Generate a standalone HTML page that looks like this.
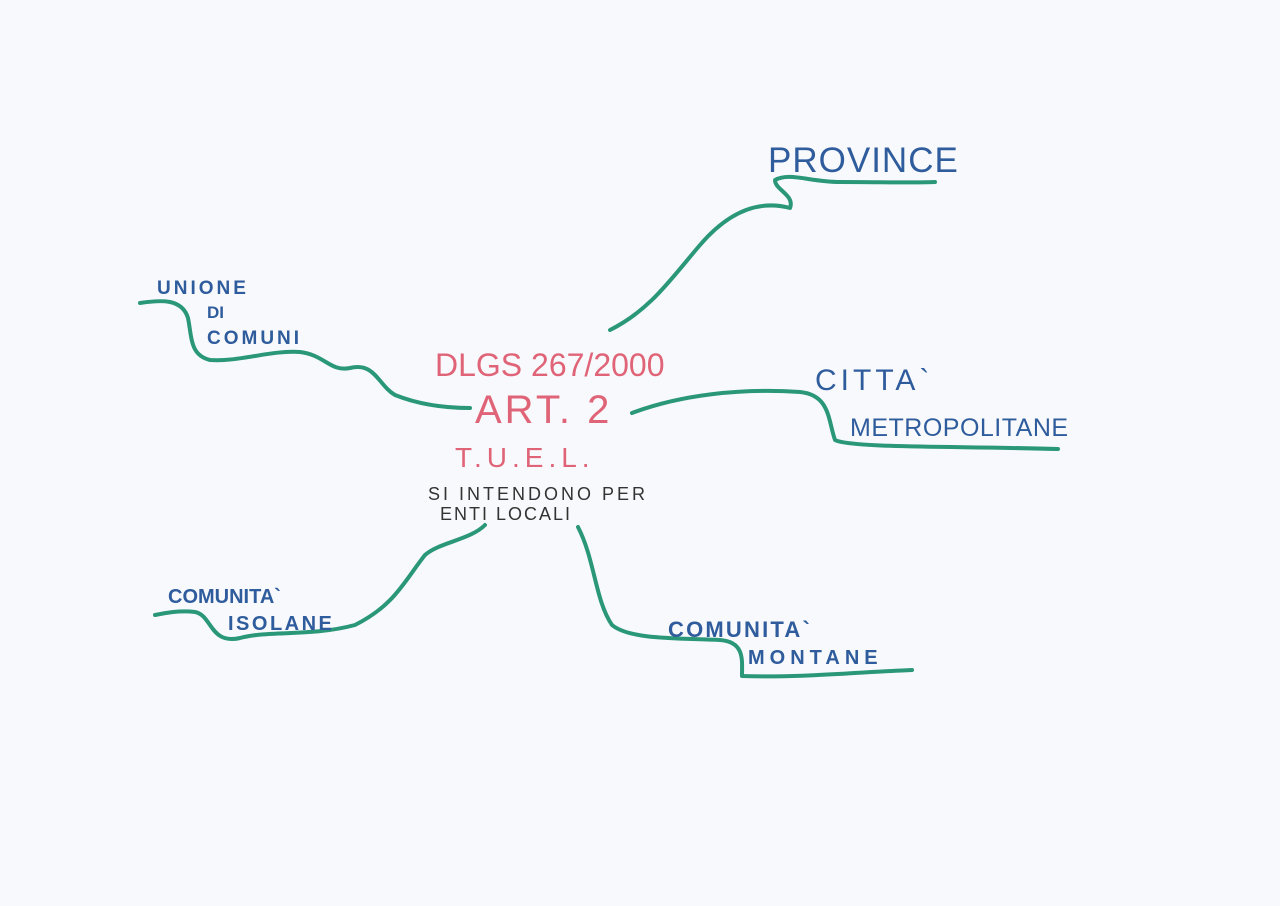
<!DOCTYPE html>
<html><head><meta charset="utf-8"><style>
html,body{margin:0;padding:0;background:#f8f9fc;}
svg{display:block}
text{font-family:"Liberation Sans",sans-serif;}
.b{fill:#2f5c9c;font-weight:bold;}
.r{fill:#e06477;}
.k{fill:#333;}
</style></head><body>
<svg width="1280" height="906" viewBox="0 0 1280 906">
<rect width="1280" height="906" fill="#f8f9fc"/>
<g fill="none" stroke="#2a9878" stroke-width="4" stroke-linecap="round" stroke-linejoin="round">
<path d="M610,330 C650,310 670,280 700,245 C730,210 760,200 790,208 C795,195 775,190 775,180 C790,172 810,182 840,182 C880,182 910,183 935,182"/>
<path d="M632,413 C680,395 740,388 800,392 C830,395 828,420 835,440 C850,448 950,446 1058,449"/>
<path d="M578,527 C595,560 595,600 612,625 C630,640 680,638 720,640 C745,642 742,660 742,676 C800,678 860,672 912,670"/>
<path d="M485,525 C470,540 440,542 425,555 C405,580 395,605 355,625 C310,637 270,630 240,638 C210,645 212,615 195,612 C180,610 165,613 155,615"/>
<path d="M140,303 C160,300 182,298 188,318 C192,338 190,355 210,360 C240,362 270,350 300,352 C325,355 330,372 350,368 C375,362 378,385 395,395 C420,405 445,408 470,408"/>
</g>
<text class="b" x="768" y="172" font-size="35" font-weight="normal" style="font-weight:normal" letter-spacing="1">PROVINCE</text>
<text class="b" x="815" y="390" font-size="30" style="font-weight:normal" letter-spacing="4">CITTA`</text>
<text class="b" x="850" y="436" font-size="25" style="font-weight:normal" letter-spacing="0.5">METROPOLITANE</text>
<text class="b" x="157" y="294" font-size="19" letter-spacing="3">UNIONE</text>
<text class="b" x="207" y="318" font-size="17">DI</text>
<text class="b" x="207" y="344" font-size="19" letter-spacing="3">COMUNI</text>
<text class="b" x="168" y="603" font-size="20">COMUNITA`</text>
<text class="b" x="228" y="630" font-size="20" letter-spacing="2.5">ISOLANE</text>
<text class="b" x="668" y="637" font-size="22" letter-spacing="2.2">COMUNITA`</text>
<text class="b" x="748" y="664" font-size="20" letter-spacing="5">MONTANE</text>
<text class="r" x="435" y="376" font-size="32">DLGS 267/2000</text>
<text class="r" x="475" y="423" font-size="40" letter-spacing="3">ART. 2</text>
<text class="r" x="455" y="467" font-size="28" letter-spacing="5">T.U.E.L.</text>
<text class="k" x="428" y="500" font-size="18" letter-spacing="3">SI INTENDONO PER</text>
<text class="k" x="440" y="520" font-size="18" letter-spacing="2">ENTI LOCALI</text>
</svg>
</body></html>
